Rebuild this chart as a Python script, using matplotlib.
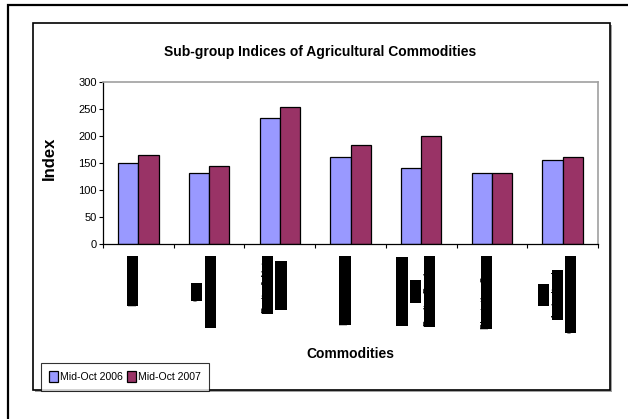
import matplotlib
matplotlib.use("Agg")
import matplotlib.pyplot as plt
from matplotlib.font_manager import FontProperties
from matplotlib.patches import Rectangle
import numpy as np

plt.rcParams["font.family"] = ["Liberation Sans", "DejaVu Sans"]

# chart data
# the category names print as solid black blocks in the original; these stand in for them
categories = [
    "Foodgrains",
    "Oils\nOilseeds, Fibres",
    "Fruits & Nuts\nVegetables",
    "Milk & Products",
    "Eggs and Meat,\nFish,\nPoultry Produce",
    "Plantation Crops",
    "Total\nAgricultural\nCommodity Index",
]
idx_2006 = [150, 132, 233, 162, 141, 132, 156]
idx_2007 = [165, 144, 253, 183, 200, 132, 162]
series_names = ["Mid-Oct 2006", "Mid-Oct 2007"]
y_ticks = [0, 50, 100, 150, 200, 250, 300]

BLUE = "#9999FF"
PLUM = "#993366"
W, H = 628, 419

fig = plt.figure(figsize=(W / 100, H / 100), dpi=100)
ax = fig.add_axes([103 / W, 1 - 244 / H, 495 / W, 162 / H])

# outer and inner frames (inner has a small grey shadow)
fig.patches.append(Rectangle((8 / W, -0.1), 1.2, 1 - 5 / H + 0.1, transform=fig.transFigure,
                             fill=False, ec="black", lw=1.6))
fig.patches.append(Rectangle((35 / W, 1 - 392 / H), 577 / W, 367 / H, transform=fig.transFigure,
                             fc="#a0a0a0", ec="none", zorder=-2))
fig.patches.append(Rectangle((33 / W, 1 - 390 / H), 577 / W, 367 / H, transform=fig.transFigure,
                             fc="white", ec="black", lw=1.2, zorder=-1))

x = np.arange(len(categories))
bw = 1 / 3.5
ax.bar(x - bw / 2, idx_2006, bw, color=BLUE, edgecolor="black", linewidth=0.9, label=series_names[0])
ax.bar(x + bw / 2, idx_2007, bw, color=PLUM, edgecolor="black", linewidth=0.9, label=series_names[1])

ax.set_xlim(-0.5, len(categories) - 0.5)
ax.set_ylim(0, 300)
ax.set_yticks(y_ticks)
ax.tick_params(axis="y", direction="out", length=3, width=0.8, labelsize=8, pad=1.5)

ax.set_xticks(x)
ax.set_xticklabels([])
ax.set_xticks(np.arange(len(categories) + 1) - 0.5, minor=True)
ax.tick_params(axis="x", which="major", length=0)
ax.tick_params(axis="x", which="minor", direction="out", length=3, width=0.8)

# category labels: rotated, one black block per line, lines centred on the longest one
lab_fs = 7
fp = FontProperties(family="Liberation Sans", size=lab_fs)
rend = fig.canvas.get_renderer()
pitch = 9.8      # pt between lines
top_gap = 9.4    # pt from axis to top of the label
shift = -4       # pt sideways
for i, lab in enumerate(categories):
    lines = lab.split("\n")
    lens = [rend.get_text_width_height_descent(s, fp, ismath=False)[0] * 72 / fig.dpi for s in lines]
    yc = -(top_gap + max(lens) / 2)
    n = len(lines)
    for j, s in enumerate(lines):
        dx = shift + (j - (n - 1) / 2) * pitch
        ax.annotate(s, xy=(x[i], 0), xycoords=ax.get_xaxis_transform(),
                    xytext=(dx, yc), textcoords="offset points", rotation=90,
                    ha="center", va="center", fontproperties=fp, color="black",
                    bbox=dict(boxstyle="square,pad=0.06", fc="black", ec="black", lw=0),
                    annotation_clip=False)

for side in ["top", "right"]:
    ax.spines[side].set_color("#a0a0a0")
    ax.spines[side].set_linewidth(1.2)
for side in ["left", "bottom"]:
    ax.spines[side].set_linewidth(0.9)

ax.set_ylabel("Index", fontsize=12, fontweight="bold", va="center")
ax.yaxis.set_label_coords(-0.109, 0.531)
ax.set_xlabel("Commodities", fontsize=10, fontweight="bold", va="center")
ax.xaxis.set_label_coords(0.5, -0.679)

fig.text(320 / W, 1 - 52 / H, "Sub-group Indices of Agricultural Commodities",
         ha="center", va="center", fontsize=10, fontweight="bold")

leg = fig.legend(loc="upper left", bbox_to_anchor=(41 / W, 1 - 363 / H), ncol=2,
                 fontsize=7.6, frameon=True, fancybox=False, edgecolor="black",
                 handlelength=0.8, handleheight=1.1, handletextpad=0.2,
                 columnspacing=0.4, borderpad=0.8, borderaxespad=0)
leg.get_frame().set_linewidth(0.8)

fig.savefig("out.png", dpi=100)
